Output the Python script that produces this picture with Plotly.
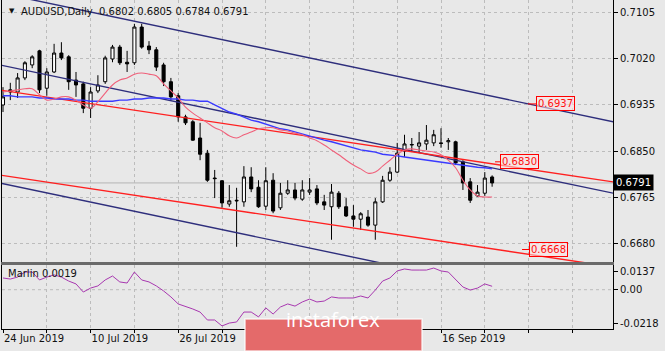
import plotly.graph_objects as go

# ---------------- data ----------------
IDX = list(range(68))
OPEN = [0.6935,0.6963,0.6959,0.6985,0.7009,0.7035,0.6966,0.6996,0.7031,0.7024,
        0.6981,0.6974,0.6929,0.6961,0.6978,0.7020,0.7042,0.7014,0.7013,0.7079,
        0.7044,0.7037,0.7009,0.6978,0.6952,0.6913,0.6904,0.6874,0.6846,0.6800,
        0.6795,0.6752,0.6759,0.6756,0.6802,0.6783,0.6748,0.6796,0.6745,0.6772,
        0.6778,0.6761,0.6774,0.6780,0.6756,0.6747,0.6772,0.6747,0.6730,0.6724,
        0.6728,0.6713,0.6756,0.6796,0.6811,0.6850,0.6861,0.6859,0.6863,0.6865,
        0.6865,0.6867,0.6867,0.6830,0.6793,0.6767,0.6772,0.6802]
HIGH = [0.6968,0.6976,0.6994,0.7016,0.7027,0.7037,0.7003,0.7048,0.7051,0.7027,
        0.6996,0.6978,0.6968,0.6990,0.7026,0.7046,0.7046,0.7035,0.7085,0.7085,
        0.7053,0.7042,0.7013,0.6985,0.6957,0.6917,0.6907,0.6902,0.6852,0.6815,
        0.6796,0.6787,0.6782,0.6822,0.6820,0.6796,0.6820,0.6809,0.6791,0.6796,
        0.6791,0.6796,0.6800,0.6787,0.6769,0.6789,0.6776,0.6763,0.6750,0.6737,
        0.6741,0.6763,0.6804,0.6820,0.6865,0.6880,0.6874,0.6885,0.6898,0.6889,
        0.6892,0.6874,0.6869,0.6833,0.6800,0.6787,0.6811,0.6805]
LOW = [0.6922,0.6944,0.6948,0.6981,0.7003,0.6957,0.6952,0.6994,0.7018,0.6963,
       0.6950,0.6920,0.6911,0.6957,0.6974,0.7014,0.7009,0.6996,0.7009,0.7039,
       0.7029,0.6998,0.6970,0.6944,0.6904,0.6898,0.6869,0.6833,0.6793,0.6763,
       0.6745,0.6747,0.6673,0.6747,0.6774,0.6745,0.6741,0.6735,0.6741,0.6769,
       0.6759,0.6758,0.6769,0.6750,0.6741,0.6686,0.6743,0.6728,0.6710,0.6704,
       0.6710,0.6686,0.6754,0.6793,0.6809,0.6839,0.6848,0.6848,0.6852,0.6859,
       0.6856,0.6852,0.6824,0.6778,0.6754,0.6765,0.6767,0.6784]
CLOSE = [0.6950,0.6959,0.6985,0.7013,0.7024,0.6963,0.6996,0.7031,0.7022,0.6978,
         0.6972,0.6929,0.6959,0.6972,0.7022,0.7042,0.7013,0.7011,0.7079,0.7042,
         0.7037,0.7005,0.6978,0.6950,0.6913,0.6902,0.6870,0.6844,0.6796,0.6799,
         0.6754,0.6758,0.6758,0.6802,0.6780,0.6747,0.6795,0.6739,0.6772,0.6778,
         0.6763,0.6778,0.6778,0.6754,0.6750,0.6774,0.6747,0.6730,0.6724,0.6734,
         0.6713,0.6756,0.6796,0.6811,0.6846,0.6863,0.6862,0.6865,0.6870,0.6880,
         0.6864,0.6869,0.6828,0.6791,0.6759,0.6774,0.6800,0.6791]
MA_FAST = [0.6959,0.6961,0.6963,0.6965,0.6965,0.6954,0.6944,0.6946,0.6950,0.6950,
           0.6944,0.6935,0.6929,0.6941,0.6957,0.6972,0.6981,0.6985,0.6992,0.6994,
           0.6992,0.6989,0.6974,0.6961,0.6948,0.6931,0.6920,0.6911,0.6902,0.6893,
           0.6887,0.6878,0.6874,0.6880,0.6885,0.6891,0.6893,0.6893,0.6889,0.6887,
           0.6883,0.6880,0.6874,0.6869,0.6861,0.6852,0.6843,0.6833,0.6824,0.6817,
           0.6809,0.6811,0.6822,0.6833,0.6844,0.6852,0.6854,0.6852,0.6850,0.6848,
           0.6843,0.6833,0.6819,0.6796,0.6778,0.6767,0.6765,0.6765]
MA_SLOW = [0.6952,0.6952,0.6950,0.6950,0.6950,0.6948,0.6948,0.6946,0.6946,0.6946,
           0.6944,0.6944,0.6942,0.6942,0.6942,0.6942,0.6944,0.6944,0.6946,0.6946,
           0.6948,0.6948,0.6948,0.6946,0.6946,0.6944,0.6944,0.6942,0.6942,0.6935,
           0.6928,0.6922,0.6918,0.6913,0.6907,0.6904,0.6900,0.6896,0.6891,0.6889,
           0.6885,0.6881,0.6878,0.6874,0.6870,0.6867,0.6863,0.6859,0.6856,0.6852,
           0.6850,0.6848,0.6844,0.6843,0.6841,0.6839,0.6837,0.6835,0.6833,0.6831,
           0.6830,0.6828,0.6826,0.6824,0.6822,0.6820,0.6819,0.6817]
MARLIN = [0.0065,0.0059,0.0070,0.0098,0.0098,0.0054,0.0070,0.0082,0.0070,0.0048,
          0.0032,-0.0013,0.0009,0.0021,0.0054,0.0076,0.0043,0.0037,0.0098,0.0054,
          0.0043,0.0021,-0.0007,-0.0040,-0.0079,-0.0091,-0.0107,-0.0124,-0.0168,-0.0168,
          -0.0201,-0.0185,-0.0179,-0.0124,-0.0124,-0.0151,-0.0101,-0.0135,-0.0096,-0.0079,
          -0.0091,-0.0068,-0.0052,-0.0068,-0.0063,-0.0040,-0.0046,-0.0046,-0.0046,-0.0035,
          -0.0046,-0.0002,0.0048,0.0065,0.0104,0.0115,0.0109,0.0109,0.0109,0.0120,
          0.0104,0.0098,0.0054,0.0015,-0.0002,0.0009,0.0032,0.0019]

# trend lines (bar index endpoints, price endpoints)
LINE_X = [-1, 84]
NAVY_TOP = [0.71436, 0.69029]
NAVY_MID = [0.70106, 0.67709]
NAVY_LOW = [0.67925, 0.65518]
RED_UP = [0.69638, 0.67920]
RED_LOW = [0.68067, 0.66349]

# price labels
LEVELS = [0.6937, 0.6830, 0.6668]
LEVEL_IDX = [71.9, 67.4, 71.1]

PRICE_TICKS = [0.7105, 0.7020, 0.6935, 0.6850, 0.6765, 0.6680]
DATE_TICK_IDX = [0, 6, 12, 18, 24, 30, 36, 42, 48, 54, 60, 66, 72, 78]
DATE_TICK_TEXT = ['24 Jun 2019', '', '10 Jul 2019', '', '26 Jul 2019', '', '', '',
                  '', '', '16 Sep 2019', '', '', '']
MARLIN_MAX = 0.0137
MARLIN_MIN = -0.0218
MARLIN_TEXT = ['0.0137', '0.00', '-0.0218']

# ---------------- figure ----------------
FONT = 'DejaVu Sans'
BG = '#e8e8e8'
GRID = '#bcbcbc'
W, H = 665, 351
ML, MR, MT, MB = 2, 52, 0, 22
PW, PH = W - ML - MR, H - MT - MB


def px(xpx):
    return (xpx - ML) / PW


def py(ypx):
    return (PH - ypx) / PH


fig = go.Figure()

line_specs = [
    (NAVY_TOP, '#2e2e7c', 1.4), (NAVY_MID, '#2e2e7c', 1.4), (NAVY_LOW, '#2e2e7c', 1.4),
    (RED_UP, '#ff2020', 1.4), (RED_LOW, '#ff2020', 1.4),
]
for vals, col, w in line_specs:
    fig.add_trace(go.Scatter(x=LINE_X, y=vals, mode='lines', xaxis='x', yaxis='y',
                             line=dict(color=col, width=w), hoverinfo='skip'))

fig.add_trace(go.Scatter(x=IDX, y=MA_SLOW, mode='lines', xaxis='x', yaxis='y',
                         line=dict(color='#3a3aff', width=1.4), hoverinfo='skip'))
fig.add_trace(go.Scatter(x=IDX, y=MA_FAST, mode='lines', xaxis='x', yaxis='y',
                         line=dict(color='#f0607a', width=1.1, shape='spline'), hoverinfo='skip'))

fig.add_trace(go.Candlestick(
    x=IDX, open=OPEN, high=HIGH, low=LOW, close=CLOSE, xaxis='x', yaxis='y',
    increasing=dict(line=dict(color='#000000', width=1), fillcolor='#ffffff'),
    decreasing=dict(line=dict(color='#000000', width=1), fillcolor='#000000'),
    whiskerwidth=0, hoverinfo='skip'))

fig.add_trace(go.Scatter(x=IDX, y=MARLIN, mode='lines', xaxis='x2', yaxis='y2',
                         line=dict(color='#a838b0', width=1), hoverinfo='skip'))

main_bottom = 262
ind_top = 265

fig.update_layout(
    width=W, height=H, margin=dict(l=ML, r=MR, t=MT, b=MB),
    paper_bgcolor=BG, plot_bgcolor=BG, showlegend=False, boxgap=0.4,
    font=dict(family=FONT, size=10, color='#111111'),
    xaxis=dict(domain=[0, 1], anchor='y', range=[-0.137, 83.56], tickvals=DATE_TICK_IDX,
               showticklabels=False, ticks='', showgrid=True, gridcolor=GRID,
               griddash='3px,3px', gridwidth=1, zeroline=False, rangeslider=dict(visible=False),
               showline=True, linecolor='#6a6a6a', linewidth=3, matches='x2'),
    yaxis=dict(domain=[py(main_bottom), 1], anchor='x', side='right',
               range=[0.66449, 0.71290], tickvals=PRICE_TICKS, tickformat='.4f',
               ticks='outside', ticklen=4, tickcolor='#000', showgrid=True, gridcolor=GRID,
               griddash='3px,3px', zeroline=False, showline=True, linecolor='#000',
               linewidth=1, mirror=True),
    xaxis2=dict(domain=[0, 1], anchor='y2', range=[-0.137, 83.56], tickvals=DATE_TICK_IDX,
                ticktext=DATE_TICK_TEXT, ticks='outside', ticklen=3, tickcolor='#000',
                ticklabelposition='outside right', showgrid=True, gridcolor=GRID,
                griddash='3px,3px', zeroline=False, showline=True, linecolor='#000',
                linewidth=1),
    yaxis2=dict(domain=[0, py(ind_top)], anchor='x2', side='right',
                range=[MARLIN_MIN, MARLIN_MAX],
                tickvals=[MARLIN_MAX - 0.00333, 0, MARLIN_MIN + 0.00333],
                ticktext=MARLIN_TEXT, ticks='outside', ticklen=4, tickcolor='#000',
                showgrid=False, zeroline=False, showline=True, linecolor='#000',
                linewidth=1, mirror=True),
)

# zero line of indicator
fig.add_shape(type='line', xref='x2 domain', yref='y2', x0=0, x1=1, y0=0, y1=0,
              line=dict(color=GRID, width=1, dash='3px,3px'), layer='below')
# bid line
fig.add_shape(type='line', xref='x domain', yref='y', x0=0, x1=1, y0=CLOSE[-1], y1=CLOSE[-1],
              line=dict(color='#b4b4b4', width=1), layer='below')

# price level labels
offsets = [28, 24, 26]
for lv, ix, off in zip(LEVELS, LEVEL_IDX, offsets):
    fig.add_annotation(x=ix, y=lv, xref='x', yref='y', text=f'{lv:.4f}',
                       showarrow=True, arrowhead=0, arrowwidth=1, arrowcolor='#ff0000',
                       ax=off, ay=0, font=dict(color='#ff1010', size=10, family=FONT),
                       bordercolor='#ff0000', borderwidth=1, borderpad=1,
                       bgcolor='rgba(255,225,225,0.55)')

# current price tag
fig.add_annotation(x=1, y=CLOSE[-1], xref='paper', yref='y', xanchor='left',
                   text=f'{CLOSE[-1]:.4f}', showarrow=False,
                   font=dict(color='#ffffff', size=10, family=FONT),
                   bgcolor='#000000', borderpad=2)

# header
fig.add_annotation(x=px(7), y=py(11), xref='paper', yref='paper', xanchor='left',
                   yanchor='middle', text='▼', showarrow=False,
                   font=dict(size=7, color='#111', family=FONT))
fig.add_annotation(x=px(19), y=py(11), xref='paper', yref='paper', xanchor='left',
                   yanchor='middle',
                   text=f'AUDUSD,Daily\u00a0\u00a0{OPEN[-1]:.4f} {HIGH[-1]:.4f} {LOW[-1]:.4f} {CLOSE[-1]:.4f}',
                   showarrow=False, font=dict(size=10, color='#111', family=FONT))
fig.add_annotation(x=px(6), y=py(273), xref='paper', yref='paper', xanchor='left',
                   yanchor='middle', text=f'Marlin {MARLIN[-1]:.4f}', showarrow=False,
                   font=dict(size=10, color='#111', family=FONT))

# watermark
fig.add_shape(type='rect', xref='paper', yref='paper', x0=px(245), x1=px(422),
              y0=py(351), y1=py(319), fillcolor='#e46a6a',
              line=dict(color='rgba(255,255,255,0.75)', width=1.5), layer='above')
fig.add_annotation(x=px(333), y=py(335), xref='paper', yref='paper', text='instaforex',
                   showarrow=False, font=dict(size=20, color='#ffffff', family='Open Sans'))

fig.write_html('out.html')
